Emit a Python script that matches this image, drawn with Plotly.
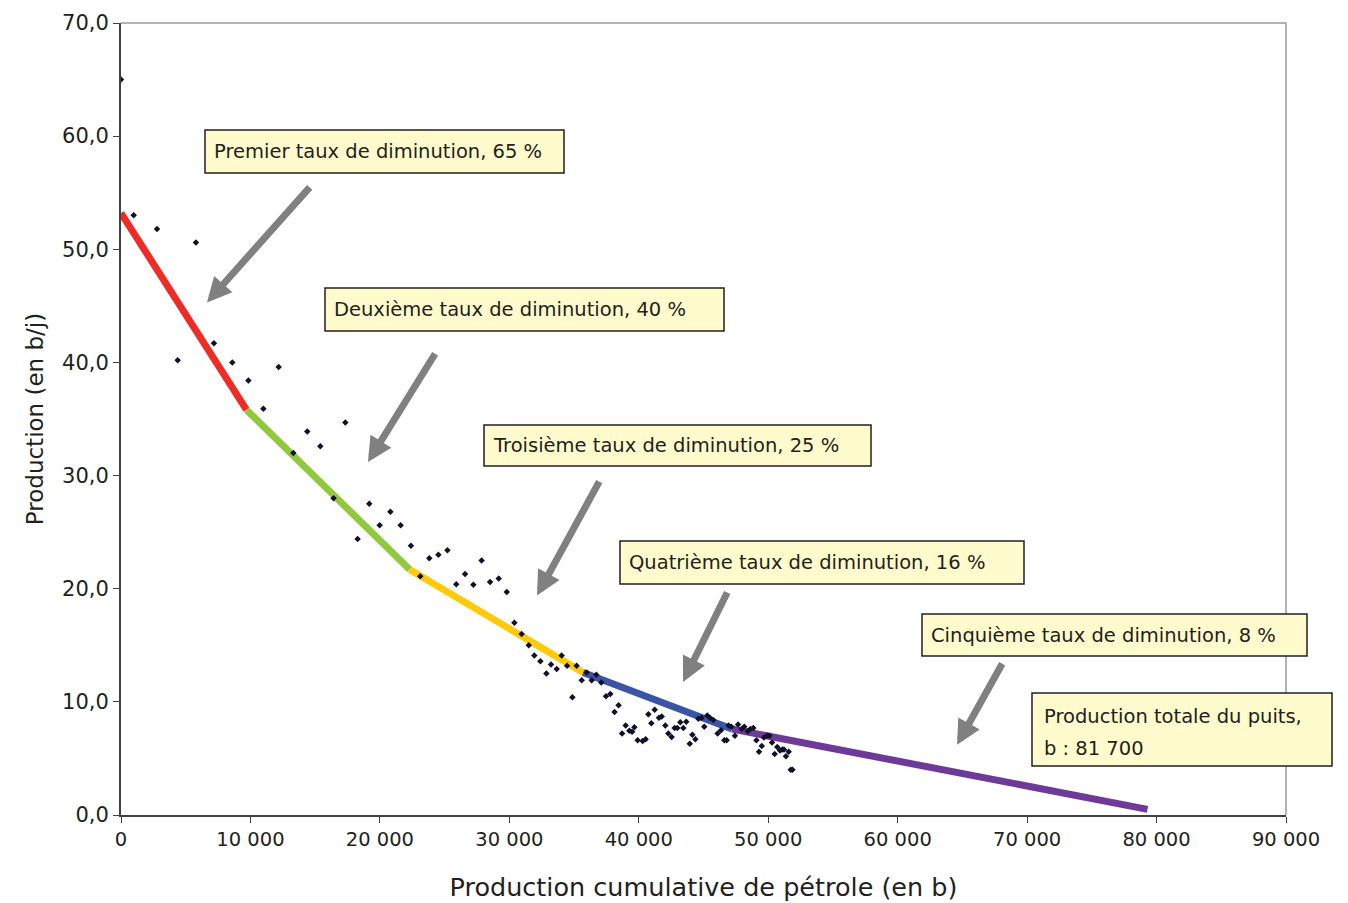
import plotly.graph_objects as go

# ---------------- data ----------------
pts_x = [0, 980, 2780, 5790, 4380, 7180, 8600, 9840, 12180, 11000, 14390, 15400, 17330, 13310,
         16420, 19180, 20810, 19980, 21600, 18280, 22400, 23820, 24520, 25220, 23120, 27860,
         26580, 25900, 27220, 28510, 29180, 29800, 30390,
         30950, 31500, 31930, 32400, 33220, 33660, 32860, 34040, 34460, 35200, 34870, 35590,
         35980, 36360, 36720, 37100, 37470, 37800, 38440, 38130, 38990, 38710, 39270, 39660,
         39480, 39910, 40300, 40530, 40740, 41230, 40970, 41560, 41770, 42050, 42280, 42540,
         42770, 42980, 43210, 43440, 43670, 44140, 44370, 43940, 44600, 44850, 45290, 45500,
         45760, 45060, 46090, 46350, 46610, 46790, 46940, 47150, 47430, 47670, 47950, 48150,
         48410, 48620, 48850, 49090, 49500, 49290, 49670, 49910, 50090, 50290, 50500, 50700,
         50910, 51090, 51220, 51370, 51580, 51740, 51870]
pts_y = [65.0, 53.0, 51.8, 50.6, 40.2, 41.7, 40.0, 38.4, 39.6, 35.9, 33.9, 32.6, 34.7, 32.0,
         28.0, 27.5, 26.8, 25.6, 25.6, 24.4, 23.8, 22.7, 23.0, 23.4, 21.1, 22.5,
         21.3, 20.4, 20.35, 20.6, 20.9, 19.7, 17.0,
         16.0, 15.0, 14.1, 13.6, 13.3, 12.9, 12.5, 14.1, 13.2, 13.2, 10.4, 11.9,
         12.6, 11.9, 12.4, 11.7, 10.5, 10.7, 9.7, 9.1, 7.9, 7.2, 7.45, 7.75,
         7.36, 6.6, 6.54, 6.7, 8.9, 9.3, 8.1, 8.6, 8.7, 7.9, 7.2, 6.9,
         7.7, 7.7, 8.2, 7.7, 8.25, 7.1, 6.7, 6.3, 8.5, 8.6, 8.8, 8.6,
         8.4, 7.8, 7.2, 7.5, 6.6, 6.6, 7.9, 7.8, 7.0, 8.0, 7.6, 7.8,
         7.4, 7.6, 7.7, 6.6, 6.1, 5.6, 6.85, 7.0, 7.0, 6.4, 5.4, 6.0,
         5.7, 5.8, 5.8, 5.2, 5.6, 4.0, 4.0]

seg_x = [0, 9700, 22300, 35700, 47200, 79300]
seg_y = [53.2, 35.8, 21.7, 12.6, 7.6, 0.5]
seg_colors = ["#EE2B24", "#92C83E", "#FFCA0A", "#3B54A5", "#6E3A97"]

labels = ["Premier taux de diminution, 65 %",
          "Deuxième taux de diminution, 40 %",
          "Troisième taux de diminution, 25 %",
          "Quatrième taux de diminution, 16 %",
          "Cinquième taux de diminution, 8 %"]
total_lines = ["Production totale du puits,", "b : 81 700"]

x_ticks = [0, 10000, 20000, 30000, 40000, 50000, 60000, 70000, 80000, 90000]
y_ticks = [0, 10, 20, 30, 40, 50, 60, 70]

# arrow tails/heads in data units
arrow_tail = [(14680, 55.6), (24340, 40.9), (37010, 29.6), (46890, 19.8), (68140, 13.5)]
arrow_head = [(6640, 45.3), (19080, 31.2), (32140, 19.4), (43420, 11.76), (64590, 6.2)]

# ---------------- layout geometry (page pixels; page body has an 8px margin) ----------------
OFF = 8
W, H = 1348 - OFF, 903 - OFF
L, R, T, B = 121, 1286, 23, 815
pw, ph = R - L, B - T

def px(xp):
    return (xp - L) / pw

def py(yp):
    return (B - yp) / ph

boxes = [(205, 130, 564, 173), (325, 288, 724, 331), (484, 425, 871, 466),
         (620, 541, 1024, 584), (922, 614, 1307, 656)]
box6 = (1032, 693, 1332, 766)

FONT = "DejaVu Sans"
TXT = "#231F20"

fig = go.Figure()

for i in range(len(seg_colors)):
    fig.add_trace(go.Scatter(
        x=seg_x[i:i + 2], y=seg_y[i:i + 2], mode="lines",
        line=dict(color=seg_colors[i], width=7), showlegend=False, hoverinfo="skip"))

fig.add_trace(go.Scatter(
    x=pts_x, y=pts_y, mode="markers",
    marker=dict(symbol="diamond", size=5, color="#10102A"),
    showlegend=False))

shapes = []
annotations = []
# frame top/right lighter
shapes.append(dict(type="line", xref="paper", yref="paper", x0=0, x1=1, y0=1, y1=1,
                   line=dict(color="#9A9A9A", width=1.5)))
shapes.append(dict(type="line", xref="paper", yref="paper", x0=1, x1=1, y0=0, y1=1,
                   line=dict(color="#9A9A9A", width=1.5)))

for (x0, y0, x1, y1), lab in zip(boxes, labels):
    shapes.append(dict(type="rect", xref="paper", yref="paper",
                       x0=px(x0), x1=px(x1), y0=py(y1), y1=py(y0),
                       fillcolor="#FFFBCC", line=dict(color="#231F20", width=1.5), layer="above"))
    annotations.append(dict(xref="paper", yref="paper", x=px(x0 + 7), y=py((y0 + y1) / 2),
                            xanchor="left", yanchor="middle", showarrow=False, text=lab,
                            font=dict(family=FONT, size=19.5, color=TXT)))

x0, y0, x1, y1 = box6
shapes.append(dict(type="rect", xref="paper", yref="paper",
                   x0=px(x0), x1=px(x1), y0=py(y1), y1=py(y0),
                   fillcolor="#FFFBCC", line=dict(color="#231F20", width=1.5), layer="above"))
for k, t in enumerate(total_lines):
    annotations.append(dict(xref="paper", yref="paper", x=px(x0 + 10), y=py(716 + 32 * k),
                            xanchor="left", yanchor="middle", showarrow=False, text=t,
                            font=dict(family=FONT, size=19.5, color=TXT)))

for (tx, ty), (hx, hy) in zip(arrow_tail, arrow_head):
    annotations.append(dict(x=hx, y=hy, ax=tx, ay=ty, xref="x", yref="y", axref="x", ayref="y",
                            showarrow=True, arrowhead=2, arrowsize=0.7, arrowwidth=7,
                            arrowcolor="#808080", text=""))

fig.update_layout(
    width=W, height=H,
    margin=dict(l=L - OFF, r=1348 - R, t=T - OFF, b=903 - B),
    paper_bgcolor="white", plot_bgcolor="white",
    separators=", ",
    font=dict(family=FONT, color=TXT),
    shapes=shapes, annotations=annotations,
    showlegend=False,
)
fig.update_xaxes(range=[0, 90000], tickvals=x_ticks, tickformat=",d", automargin=False,
                 showgrid=False, zeroline=False, showline=True, linecolor="#404040", linewidth=2,
                 ticks="outside", ticklen=6, tickcolor="#404040",
                 tickfont=dict(family=FONT, size=19.5, color=TXT),
                 title=dict(text="Production cumulative de pétrole (en b)",
                            font=dict(family=FONT, size=25.5, color=TXT), standoff=28))
fig.update_yaxes(range=[0, 70], tickvals=y_ticks, tickformat=".1f", automargin=False,
                 showgrid=False, zeroline=False, showline=True, linecolor="#404040", linewidth=2,
                 ticks="outside", ticklen=6, tickcolor="#404040",
                 tickfont=dict(family=FONT, size=21, color=TXT),
                 title=dict(text="Production (en b/j)",
                            font=dict(family=FONT, size=23, color=TXT), standoff=12))

fig.write_html("out.html")
